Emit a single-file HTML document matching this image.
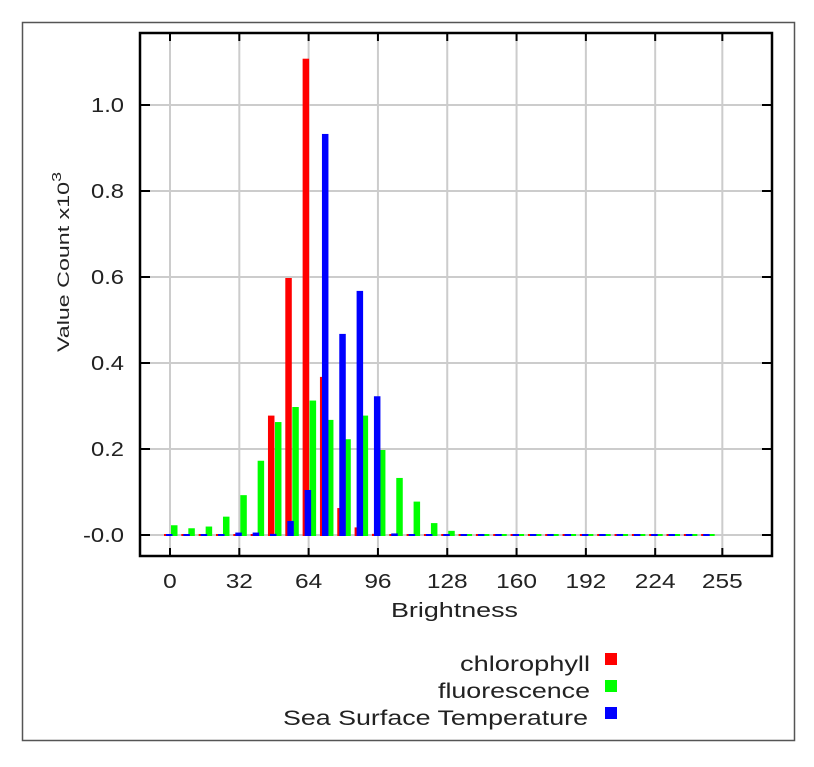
<!DOCTYPE html>
<html><head><meta charset="utf-8"><style>
body{margin:0;background:#fff;}
svg text{font-family:"Liberation Sans",sans-serif;fill:#222;}
</style></head><body>
<svg id="chart" width="814" height="762" xmlns="http://www.w3.org/2000/svg">
<rect x="22.5" y="22.5" width="772" height="718" fill="#fff" stroke="#555" stroke-width="1.5"/>
<g id="grid"></g>
<g id="bars"></g>
<rect x="140" y="33" width="632" height="523" fill="none" stroke="#000" stroke-width="2.5"/>
<g id="axes"></g>
<text x="391" y="617" font-size="20" textLength="127" lengthAdjust="spacingAndGlyphs">Brightness</text>
<text transform="translate(69,352) rotate(-90)" font-size="17" textLength="180" lengthAdjust="spacingAndGlyphs">Value Count x10<tspan dy="-8" font-size="13">3</tspan></text>
<g>
<text x="460" y="671" font-size="21" textLength="130" lengthAdjust="spacingAndGlyphs">chlorophyll</text>
<rect x="605" y="653" width="12" height="12" fill="#f00"/>
<text x="438" y="698" font-size="21" textLength="152" lengthAdjust="spacingAndGlyphs">fluorescence</text>
<rect x="605" y="680" width="12" height="12" fill="#0f0"/>
<text x="283" y="725" font-size="21" textLength="305" lengthAdjust="spacingAndGlyphs">Sea Surface Temperature</text>
<rect x="605" y="707" width="12" height="12" fill="#00f"/>
</g>
</svg>
<script>
const binStarts=[0,8,16,24,32,40,48,56,64,72,80,88,96,104,112,120,128,136,144,152,160,168,176,184,192,200,208,216,224,232,240,248];
const chlorophyll=[0.003,0.003,0.003,0.003,0.003,0.003,0.28,0.60,1.11,0.37,0.065,0.02,0.005,0.003,0.003,0.003,0.003,0.003,0.003,0.003,0.003,0.003,0.003,0.003,0.003,0.003,0.003,0.003,0.003,0.003,0.003,0.003];
const fluorescence=[0.025,0.018,0.022,0.045,0.095,0.175,0.265,0.30,0.315,0.27,0.225,0.28,0.20,0.135,0.08,0.03,0.012,0.003,0.003,0.003,0.003,0.003,0.003,0.003,0.003,0.003,0.003,0.003,0.003,0.003,0.003,0.003];
const sst=[0.003,0.003,0.003,0.003,0.008,0.008,0.005,0.035,0.107,0.935,0.47,0.57,0.325,0.006,0.003,0.003,0.003,0.003,0.003,0.003,0.003,0.003,0.003,0.003,0.003,0.003,0.003,0.003,0.003,0.003,0.003,0.003];
const xTicks=[0,32,64,96,128,160,192,224,255];
const yTicks=[0,0.2,0.4,0.6,0.8,1.0];
const yTickLabels=["-0.0","0.2","0.4","0.6","0.8","1.0"];
const NS="http://www.w3.org/2000/svg";
function xs(v){return 170+v*2.166;}
function ys(v){return 535-v*430;}
function mk(tag,attrs,parent){const e=document.createElementNS(NS,tag);for(const k in attrs)e.setAttribute(k,attrs[k]);parent.appendChild(e);return e;}
const grid=document.getElementById('grid'),bars=document.getElementById('bars'),axes=document.getElementById('axes');
xTicks.forEach((t,i)=>{
  const l=mk('line',{x1:xs(t),x2:xs(t),y1:33,y2:556,stroke:'#ccc','stroke-width':2},grid);
  
  
  const tk=mk('line',{x1:xs(t),x2:xs(t),y1:548,y2:556,stroke:'#000','stroke-width':2},axes);
  
  
  const tt=mk('line',{x1:xs(t),x2:xs(t),y1:33,y2:41,stroke:'#000','stroke-width':2},axes);
  
  
  const s=String(t);
  const w=s.length*13.6;
  const tx=mk('text',{x:xs(t)-w/2,y:588,'font-size':20,textLength:w,lengthAdjust:'spacingAndGlyphs'},axes);
  tx.textContent=s;
  
  
});
yTicks.forEach((t,i)=>{
  const l=mk('line',{x1:140,x2:772,y1:ys(t),y2:ys(t),stroke:'#ccc','stroke-width':2},grid);
  
  
  const tk=mk('line',{x1:140,x2:150,y1:ys(t),y2:ys(t),stroke:'#000','stroke-width':2},axes);
  
  
  const tr=mk('line',{x1:762,x2:772,y1:ys(t),y2:ys(t),stroke:'#000','stroke-width':2},axes);
  
  
  const s=yTickLabels[i];
  const w=s.length===4?41:33;
  const tx=mk('text',{x:124-w,y:ys(t)+7,'font-size':20,textLength:w,lengthAdjust:'spacingAndGlyphs'},axes);
  tx.textContent=s;
  
  
});
const series=[[chlorophyll,'#f00',-6,'bar-chlorophyll'],[fluorescence,'#0f0',1,'bar-fluorescence'],[sst,'#00f',-4,'bar-sst']];
binStarts.forEach((b,i)=>{
  series.forEach(([arr,col,off,name])=>{
    const v=arr[i];const h=Math.max(2,v*430);
    const r=mk('rect',{x:xs(b)+off,y:ys(0)-h+1,width:6.5,height:h,fill:col},bars);
    
    
  });
});
</script>
</body></html>
